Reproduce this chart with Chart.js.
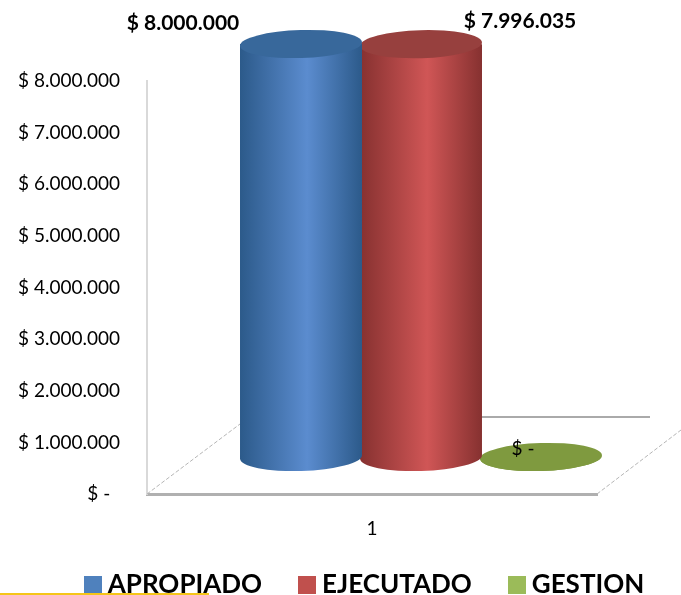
<!DOCTYPE html>
<html>
<head>
<meta charset="utf-8">
<script src="https://cdn.jsdelivr.net/npm/chart.js@4"></script>
<style>
  html, body { margin: 0; padding: 0; background: #fff; }
  #wrap { width: 681px; height: 595px; }
</style>
</head>
<body>
<div id="wrap"><canvas id="myChart"></canvas></div>
<script>
var categories = ["1"];
var seriesNames = ["APROPIADO", "EJECUTADO", "GESTION"];
var apropiado = [8000000];
var ejecutado = [7996035];
var gestion = [0];
var seriesColors = ["#4f81bd", "#c0504d", "#9bbb59"];
var valueLabels = ["$ 8.000.000", "$ 7.996.035", "$ -"];

var FONT = "Lato, 'Open Sans', sans-serif";
// the picture is a fake 3D chart, bars sit back from the front axis by this much
var depthX = 49, depthY = -37;

function money(v) {
  if (v === 0) return "$ -  ";
  return "$ " + String(v).replace(/\B(?=(\d{3})+$)/g, ".");
}

var shades = [
  { edge: "#2c5a8a", mid: "#5b8ccf", cap: "#38689b" },
  { edge: "#863130", mid: "#d05656", cap: "#97403e" },
  { edge: "#7f9a3f", mid: "#7f9a3f", cap: "#7f9a3f" }
];

// legend square as a small canvas, so it can sit closer to its text
function swatch(color) {
  var s = document.createElement("canvas");
  s.width = 18;
  s.height = 18;
  var g = s.getContext("2d");
  g.fillStyle = color;
  g.fillRect(0, 0, 18, 18);
  return s;
}

function drawCylinder(ctx, bar, s) {
  var cx = bar.x + depthX;
  var rx = bar.width / 2 + 1;
  var ry = 14;
  var top = bar.y + depthY;
  var bot = bar.base + depthY;
  var tilt = -0.03;
  var grad = ctx.createLinearGradient(cx - rx, 0, cx + rx, 0);
  grad.addColorStop(0, s.edge);
  grad.addColorStop(0.55, s.mid);
  grad.addColorStop(1, s.edge);
  ctx.save();
  ctx.fillStyle = grad;
  ctx.beginPath();
  ctx.ellipse(cx, bot, rx, ry, tilt, 0, Math.PI);
  ctx.lineTo(cx - rx, top);
  ctx.lineTo(cx + rx, top);
  ctx.closePath();
  ctx.fill();
  ctx.fillStyle = s.cap;
  ctx.beginPath();
  ctx.ellipse(cx, top, rx, ry, tilt, 0, Math.PI * 2);
  ctx.fill();
  ctx.restore();
}

var floorPlugin = {
  id: "floor",
  beforeDatasetsDraw: function(chart) {
    var c = chart.ctx, a = chart.chartArea;
    c.save();
    c.strokeStyle = "#b5b5b5";
    c.lineWidth = 1;
    c.setLineDash([4, 2]);
    c.beginPath();
    c.moveTo(a.left, a.bottom);
    c.lineTo(a.left + 93, a.bottom - 70);
    c.moveTo(a.right, a.bottom);
    c.lineTo(a.right + 84, a.bottom - 64);
    c.stroke();
    c.setLineDash([]);
    c.lineWidth = 2;
    c.strokeStyle = "#aaaaaa";
    c.beginPath();
    c.moveTo(a.left + 330, a.bottom - 77);
    c.lineTo(a.right + 53, a.bottom - 77);
    c.stroke();
    c.restore();
  },
  afterLayout: function(chart) {
    // legend sits lower and further right than the layout box puts it
    var lg = chart.legend;
    lg.top = 529;
    lg.left += 27;
    lg.right += 27;
  },
  beforeDatasetDraw: function(chart, args) {
    var bar = chart.getDatasetMeta(args.index).data[0];
    drawCylinder(chart.ctx, bar, shades[args.index]);
    return false;
  },
  afterDraw: function(chart) {
    var c = chart.ctx;
    var b = [0, 1, 2].map(function(i) { return chart.getDatasetMeta(i).data[0]; });
    c.save();
    c.fillStyle = "#000";
    c.textBaseline = "middle";
    c.textAlign = "center";
    c.font = "bold 21px " + FONT;
    c.fillText(valueLabels[0], b[0].x - 69, 23);
    c.fillText(valueLabels[1], b[1].x + 148, 21);
    c.font = "19px " + FONT;
    c.fillText(valueLabels[2], b[2].x + 31, 449);
    // yellow rule left at the bottom of the page
    c.strokeStyle = "#f5c518";
    c.lineWidth = 2;
    c.beginPath();
    c.moveTo(0, 594);
    c.lineTo(209, 594);
    c.stroke();
    c.restore();
  }
};

var ctx = document.getElementById("myChart").getContext("2d");
var myChart = new Chart(ctx, {
  type: "bar",
  plugins: [floorPlugin],
  data: {
    labels: categories,
    datasets: [
      { label: seriesNames[0], data: apropiado, backgroundColor: seriesColors[0] },
      { label: seriesNames[1], data: ejecutado, backgroundColor: seriesColors[1] },
      { label: seriesNames[2], data: gestion, backgroundColor: seriesColors[2] }
    ]
  },
  options: {
    responsive: true,
    maintainAspectRatio: false,
    animation: false,
    layout: { padding: { top: 81, right: 0, left: 0, bottom: -28 } },
    datasets: { bar: { categoryPercentage: 0.8, barPercentage: 1 } },
    plugins: {
      tooltip: { enabled: false },
      title: { display: false },
      legend: {
        position: "bottom",
        labels: {
          usePointStyle: true,
          pointStyleWidth: 4,
          boxHeight: 18,
          padding: 43,
          color: "#000",
          font: { family: FONT, size: 26, weight: "bold" },
          generateLabels: function(chart) {
            var items = Chart.defaults.plugins.legend.labels.generateLabels(chart);
            items.forEach(function(it, i) { it.pointStyle = swatch(seriesColors[i]); });
            return items;
          }
        }
      }
    },
    scales: {
      x: {
        grid: { display: false, drawTicks: false },
        border: { display: true, color: "#b0b0b0", width: 3 },
        ticks: { color: "#000", padding: 23, font: { family: FONT, size: 19 } },
        afterFit: function(scale) { scale.height = 50; }
      },
      y: {
        min: 0,
        max: 8000000,
        grid: { display: false, drawTicks: false },
        border: { display: true, color: "#d9d9d9", width: 2 },
        ticks: {
          stepSize: 1000000,
          color: "#000",
          padding: 27,
          font: { family: FONT, size: 19 },
          callback: function(v) { return money(v); }
        },
        afterFit: function(scale) { scale.width = 147; }
      },
      // empty axis, only keeps the plot clear of the right side
      yRight: {
        position: "right",
        grid: { display: false, drawTicks: false },
        border: { display: false },
        ticks: { display: false },
        afterFit: function(scale) { scale.width = 84; }
      }
    }
  }
});
</script>
</body>
</html>
